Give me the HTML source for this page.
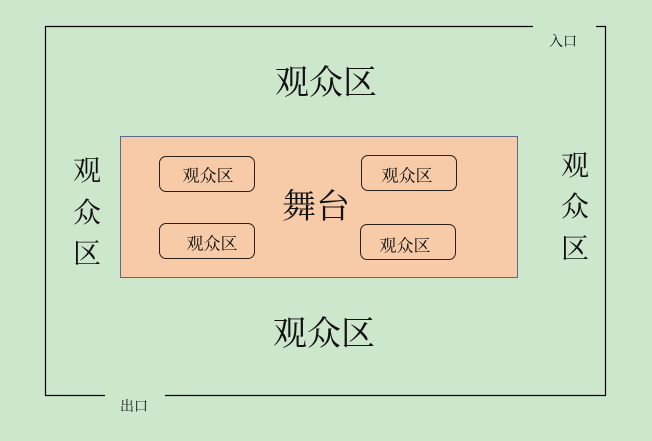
<!DOCTYPE html>
<html><head><meta charset="utf-8"><style>
html,body{margin:0;padding:0}
body{width:652px;height:441px;background:#cde7cd;position:relative;overflow:hidden;font-family:"Liberation Serif","Noto Serif CJK SC",serif;color:#111}
.a{position:absolute}
.t{position:absolute;white-space:nowrap;line-height:1;transform:translate(-50%,-50%);margin-top:2px}
.box{position:absolute;border:1.8px solid #2a2018;border-radius:7px;box-sizing:border-box}
</style></head><body>
<svg class="a" style="left:0;top:0" width="652" height="441">
<polyline points="533,26.5 45.5,26.5 45.5,395.5 105,395.5" fill="none" stroke="#000" stroke-width="1.2"/>
<polyline points="165,395.5 605.5,395.5 605.5,26.5 596,26.5" fill="none" stroke="#000" stroke-width="1.2"/>
<rect x="120.5" y="136.5" width="397" height="141" fill="#f8cba8" stroke="#5a6a8a" stroke-width="1"/>
</svg>
<div class="box" style="left:159px;top:156px;width:96px;height:36px"></div>
<div class="box" style="left:361px;top:155px;width:96px;height:36px"></div>
<div class="box" style="left:159px;top:223px;width:96px;height:36px"></div>
<div class="box" style="left:360px;top:224px;width:96px;height:36px"></div>
<div class="t" style="left:208px;top:174px;font-size:17px">观众区</div>
<div class="t" style="left:407px;top:174px;font-size:17px">观众区</div>
<div class="t" style="left:212px;top:242px;font-size:17px">观众区</div>
<div class="t" style="left:405px;top:244px;font-size:17px">观众区</div>
<div class="t" style="left:316px;top:206px;font-size:34px">舞台</div>
<div class="t" style="left:326px;top:82px;font-size:34px">观众区</div>
<div class="t" style="left:324px;top:333px;font-size:34px">观众区</div>
<div class="t" style="left:87px;top:170px;font-size:28px">观</div>
<div class="t" style="left:87px;top:212px;font-size:28px">众</div>
<div class="t" style="left:87px;top:253px;font-size:28px">区</div>
<div class="t" style="left:575px;top:165px;font-size:28px">观</div>
<div class="t" style="left:575px;top:206px;font-size:28px">众</div>
<div class="t" style="left:575px;top:248px;font-size:28px">区</div>
<div class="t" style="left:563px;top:41px;font-size:14px">入口</div>
<div class="t" style="left:134px;top:406px;font-size:14px">出口</div>
</body></html>
